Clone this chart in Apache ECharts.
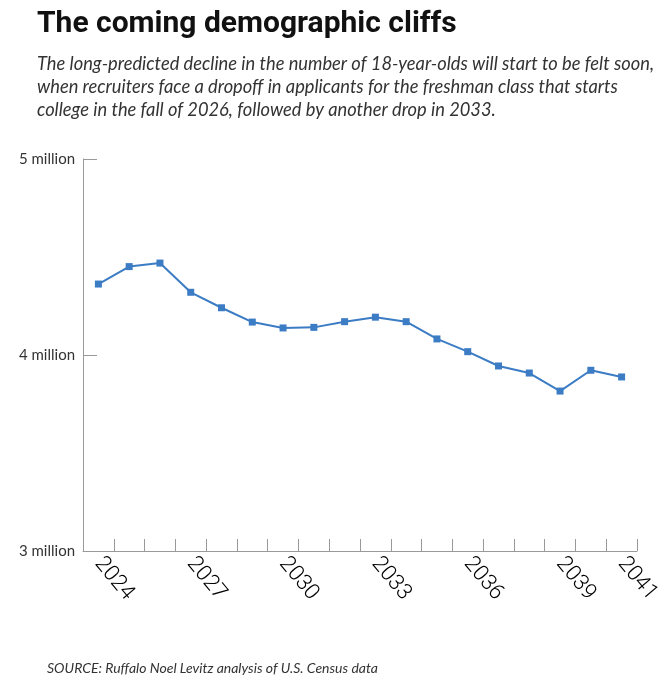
<!DOCTYPE html>
<html>
<head>
<meta charset="utf-8">
<script src="https://cdn.jsdelivr.net/npm/echarts@6/dist/echarts.min.js"></script>
<style>
html,body{margin:0;padding:0;background:#fff;}
#chart{width:671px;height:689px;}
</style>
</head>
<body>
<div id="chart"></div>
<script>
const years = ['2024','2025','2026','2027','2028','2029','2030','2031','2032','2033','2034','2035','2036','2037','2038','2039','2040','2041'];
const students = [4.362, 4.451, 4.469, 4.320, 4.241, 4.168, 4.138, 4.141, 4.170, 4.193, 4.170, 4.082, 4.017, 3.944, 3.908, 3.816, 3.922, 3.888];
const shownYears = ['2024','2027','2030','2033','2036','2039','2041'];
const yTicks = [3, 4, 5];

const chart = echarts.init(document.getElementById('chart'));
chart.setOption({
  backgroundColor: '#ffffff',
  animation: false,
  title: [
    {
      text: 'The coming demographic cliffs',
      left: 32, top: 4,
      textStyle: {fontFamily: 'Roboto', fontWeight: 'bold', fontSize: 30, color: '#111'}
    },
    {
      text: 'The long-predicted decline in the number of 18-year-olds will start to be felt soon,\nwhen recruiters face a dropoff in applicants for the freshman class that starts\ncollege in the fall of 2026, followed by another drop in 2033.',
      left: 32, top: 48,
      textStyle: {fontFamily: 'Lato', fontStyle: 'italic', fontWeight: 'normal', fontSize: 18.3, lineHeight: 23, color: '#333'}
    },
    {
      text: 'SOURCE: Ruffalo Noel Levitz analysis of U.S. Census data',
      left: 42, top: 656,
      textStyle: {fontFamily: 'Lato', fontStyle: 'italic', fontWeight: 'normal', fontSize: 14, color: '#333'}
    }
  ],
  grid: {left: 83, right: 34, top: 159, bottom: 138, containLabel: false},
  xAxis: {
    type: 'category',
    data: years,
    boundaryGap: true,
    axisLine: {lineStyle: {color: '#999', width: 1}},
    axisTick: {show: true, inside: true, length: 12, interval: 0, lineStyle: {color: '#999'}},
    axisLabel: {
      rotate: -50,
      interval: function (i, v) { return shownYears.indexOf(v) >= 0; },
      fontFamily: 'Roboto', fontWeight: 300, fontSize: 22, color: '#000', margin: 9
    }
  },
  yAxis: {
    type: 'value',
    min: yTicks[0], max: yTicks[yTicks.length - 1], interval: 1,
    axisLine: {show: true, lineStyle: {color: '#999', width: 1}},
    axisTick: {show: true, inside: true, length: 14, lineStyle: {color: '#999'}},
    splitLine: {show: false},
    axisLabel: {
      formatter: function (v) { return v + ' million'; },
      fontFamily: 'Lato', fontSize: 15, color: '#333', margin: 8
    }
  },
  series: [{
    type: 'line',
    data: students,
    symbol: 'rect',
    symbolSize: 7,
    lineStyle: {color: '#3b7cc4', width: 2},
    itemStyle: {color: '#3b7cc4'}
  }]
});
</script>
</body>
</html>
